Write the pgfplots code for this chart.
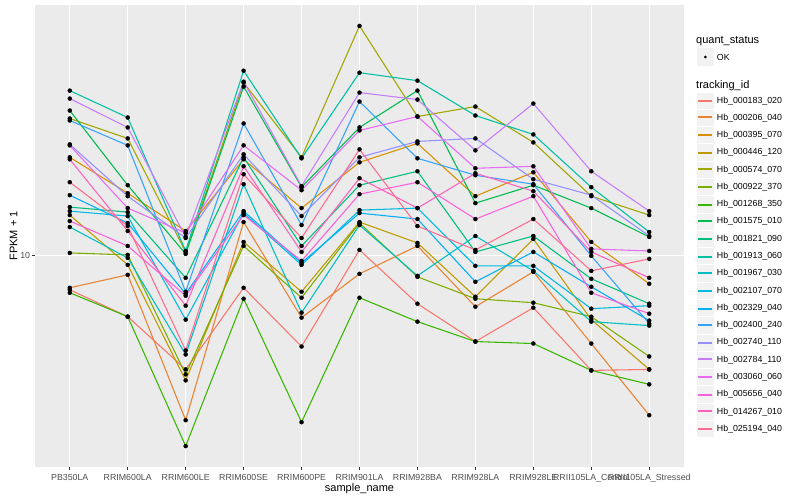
\documentclass[border=0pt]{standalone}
\usepackage{pgfplots}
\pgfplotsset{compat=1.18}
\usepackage{pgfplotstable}
\usepackage{fontspec}
\setmainfont{Liberation Sans}
\definecolor{c1}{HTML}{F8766D}
\definecolor{c2}{HTML}{EA8331}
\definecolor{c3}{HTML}{D89000}
\definecolor{c4}{HTML}{C09B00}
\definecolor{c5}{HTML}{A3A500}
\definecolor{c6}{HTML}{7CAE00}
\definecolor{c7}{HTML}{39B600}
\definecolor{c8}{HTML}{00BB4E}
\definecolor{c9}{HTML}{00BF7D}
\definecolor{c10}{HTML}{00C1A3}
\definecolor{c11}{HTML}{00BFC4}
\definecolor{c12}{HTML}{00BAE0}
\definecolor{c13}{HTML}{00B0F6}
\definecolor{c14}{HTML}{35A2FF}
\definecolor{c15}{HTML}{9590FF}
\definecolor{c16}{HTML}{C77CFF}
\definecolor{c17}{HTML}{E76BF3}
\definecolor{c18}{HTML}{FA62DB}
\definecolor{c19}{HTML}{FF62BC}
\definecolor{c20}{HTML}{FF6C91}
\definecolor{ggbg}{HTML}{EBEBEB}
\definecolor{ggkey}{HTML}{F2F2F2}
\definecolor{gray20}{HTML}{333333}
\definecolor{gray30}{HTML}{4D4D4D}

% values: log10(FPKM + 1)
\pgfplotstableread{
x s1 s2 s3 s4 s5 s6 s7 s8 s9 s10 s11 s12 s13 s14 s15 s16 s17 s18 s19 s20
0 0.915 0.92 1.2475 1.1025 1.345 1.0075 0.9075 1.365 1.1225 1.415 1.0725 1.1125 1.1525 1.34 1.28 1.395 1.2775 1.0875 1.2425 1.185
1 0.8475 0.9525 1.1575 0.9775 1.295 1.0025 0.8475 1.1775 1.11 1.3475 0.995 1.1 1.0825 1.2775 1.15 1.3225 1.12 1.025 1.0625 1.075
2 0.715 0.5875 1.0625 0.6875 1.01 0.7025 0.5225 1.005 0.945 1.0125 0.7525 0.84 0.905 0.91 1.045 1.0475 1.0575 0.9 0.875 0.7625
3 0.92 1.085 1.2425 1.035 1.435 1.025 0.8925 1.425 1.2475 1.465 1.18 1.1075 1.1125 1.3325 1.255 1.4375 1.2775 1.1025 1.225 1.205
4 0.7725 0.845 1.12 0.91 1.2475 0.895 0.5825 1.1725 1.025 1.245 0.8575 0.9775 0.9825 1.0775 1.1 1.175 1.165 0.9875 1.01 1.045
5 1.015 0.955 1.235 1.085 1.5775 1.0825 0.895 1.3225 1.1775 1.46 1.0775 1.115 1.1075 1.3875 1.2475 1.41 1.315 1.155 1.195 1.2675
6 0.88 1.025 1.2825 1.0325 1.35 0.9475 0.835 1.415 1.2125 1.44 0.95 1.12 1.0925 1.245 1.2875 1.3925 1.35 1.185 1.12 1.075
7 0.785 0.8725 1.15 0.8975 1.375 0.8925 0.785 1.1325 1.01 1.3525 1.05 0.975 0.935 1.2025 1.295 1.265 1.22 1.0925 1.2075 1.015
8 0.87 0.96 1.21 1.0425 1.285 0.8825 0.78 1.1775 1.05 1.305 0.9625 0.975 1.01 1.18 1.1925 1.3825 1.225 1.15 1.1625 1.0925
9 0.7125 0.78 1.035 0.84 1.15 0.8475 0.7125 1.12 0.9425 1.1725 0.835 0.8675 0.9225 1.0 1.1525 1.2125 1.0175 0.9075 1.01 0.9625
10 0.715 0.6 0.93 0.715 1.1025 0.7475 0.6775 1.0475 0.88 1.06 0.825 0.875 0.8375 0.83 1.05 1.1125 1.0125 0.855 0.945 0.9925
}\fpkm

\begin{document}
\begin{tikzpicture}[x=1pt,y=1pt]
\useasboundingbox (0,0) rectangle (800,500);
\begin{axis}[
  at={(35pt,33pt)}, anchor=south west,
  scale only axis, width=649pt, height=462pt,
  xmin=-0.6, xmax=10.6, ymin=0.47, ymax=1.63,
  axis background/.style={fill=ggbg},
  axis line style={draw=none},
  xtick={0,...,10},
  xticklabels={PB350LA,RRIM600LA,RRIM600LE,RRIM600SE,RRIM600PE,RRIM901LA,RRIM928BA,RRIM928LA,RRIM928LE,RRII105LA\_Control,RRII105LA\_Stressed},
  ytick={1}, yticklabels={10},
  grid=major, major grid style={white, line width=1.07pt},
  tick align=outside, major tick length=2.75pt,
  tick style={gray20, line width=1.07pt},
  xtick pos=bottom, ytick pos=left,
  xticklabel style={font=\fontsize{8.8}{10}\selectfont, text=gray30, anchor=base, inner sep=0pt, yshift=-10.6pt},
  yticklabel style={font=\fontsize{8.8}{10}\selectfont, text=gray30, anchor=east, inner sep=0pt, xshift=-2pt},
  xlabel={sample\_name}, ylabel={FPKM + 1},
  xlabel style={font=\fontsize{11}{13}\selectfont, at={(axis description cs:0.5,-0.052)}, anchor=base, inner sep=0pt},
  ylabel style={font=\fontsize{11}{13}\selectfont, at={(axis description cs:-0.027,0.5)}, anchor=base, inner sep=0pt},
]
\pgfplotsinvokeforeach{1,...,20}{
  \addplot[c#1, line width=1.07pt, no marks] table[x=x, y=s#1] {\fpkm};
}
\pgfplotsinvokeforeach{1,...,20}{
  \addplot[only marks, mark=*, mark size=2pt, black] table[x=x, y=s#1] {\fpkm};
}
\end{axis}
% legend
\node[anchor=base west, inner sep=0pt, font=\fontsize{11}{13}\selectfont] at (696,456) {quant\_status};
\fill[ggkey] (696.7,434.4) rectangle (714,451.6);
\fill[black] (705.35,443) circle (1.6);
\node[anchor=west, inner sep=0pt, font=\fontsize{8.8}{10}\selectfont] at (716.7,443) {OK};
\node[anchor=base west, inner sep=0pt, font=\fontsize{11}{13}\selectfont] at (696,411.5) {tracking\_id};
\foreach \kcol/\klab [count=\i from 0] in {c1/Hb\_000183\_020,c2/Hb\_000206\_040,c3/Hb\_000395\_070,c4/Hb\_000446\_120,c5/Hb\_000574\_070,c6/Hb\_000922\_370,c7/Hb\_001268\_350,c8/Hb\_001575\_010,c9/Hb\_001821\_090,c10/Hb\_001913\_060,c11/Hb\_001967\_030,c12/Hb\_002107\_070,c13/Hb\_002329\_040,c14/Hb\_002400\_240,c15/Hb\_002740\_110,c16/Hb\_002784\_110,c17/Hb\_003060\_060,c18/Hb\_005656\_040,c19/Hb\_014267\_010,c20/Hb\_025194\_040}{
  \pgfmathsetmacro{\yc}{399.3-17.28*\i}
  \pgfmathsetmacro{\yl}{2*round((\yc-1)/2)+1}
  \filldraw[fill=ggkey, draw=white, line width=0.8pt] (696.7,\yc-8.64) rectangle (714,\yc+8.64);
  \draw[color=\kcol, line width=1.5pt] (698.4,\yl) -- (712.3,\yl);
  \node[anchor=west, inner sep=0pt, font=\fontsize{8.8}{10}\selectfont] at (716.7,\yc) {\klab};
}
\end{tikzpicture}
\end{document}
